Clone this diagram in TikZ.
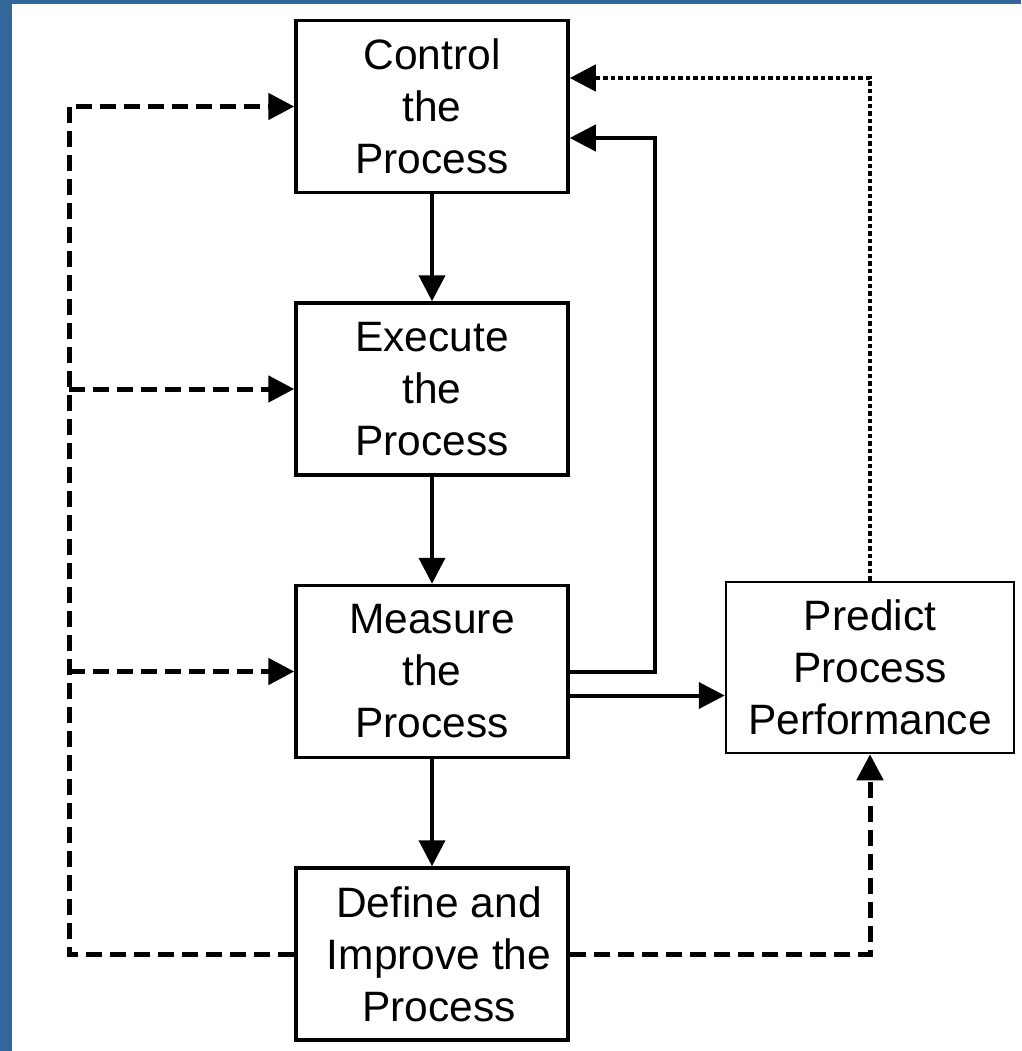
\documentclass[tikz,border=0pt]{standalone}
\usepackage{fontspec}
\setmainfont{Liberation Sans}
\usetikzlibrary{arrows.meta}
\definecolor{frameblue}{RGB}{51,102,153}
\newcommand{\indentline}{\hspace*{14pt}}
\begin{document}
\begin{tikzpicture}[x=1pt,y=-1pt,
  stepbox/.style={draw, line width=3.5pt, minimum width=272pt, minimum height=172pt,
    inner sep=0pt, align=center, font=\fontsize{42.5}{52}\selectfont},
  sidebox/.style={stepbox, line width=2.5pt, minimum width=288pt, minimum height=171pt},
  tip/.style={-{Triangle[length=26pt,width=26pt]}},
  flow/.style={tip, line width=4pt},
  link/.style={tip, line width=5pt, dash pattern=on 16pt off 8pt},
  hint/.style={tip, line width=4.5pt, dash pattern=on 4.5pt off 3pt}]
  % page and frame
  \fill[white] (0,0) rectangle (1021,1051);
  \useasboundingbox (0,0) rectangle (1021,1051);
  \fill[frameblue] (0,0) rectangle (12,1051);
  \fill[frameblue] (0,0) rectangle (1021,4);

  % process steps
  \node[stepbox] (ctrl) at (432,106.5) {Control\\the\\Process};
  \node[stepbox] (exec) at (432,389) {Execute\\the\\Process};
  \node[stepbox] (meas) at (432,671.5) {Measure\\the\\Process};
  \node[stepbox] (def)  at (432,954)
    {\indentline Define and\\\indentline Improve the\\\indentline Process};
  \node[sidebox] (pred) at (870,667.5) {Predict\\Process\\Performance};

  % main flow
  \draw[flow] (ctrl) -- (exec);
  \draw[flow] (exec) -- (meas);
  \draw[flow] (meas) -- (def);

  % measurement feedback and prediction
  \coordinate (fbx) at (655,0);
  \coordinate (ci) at ([yshift=-31.5pt]ctrl.east);
  \draw[flow] (meas.east) -- (fbx |- meas.east) |- (ci);
  \coordinate (mo) at ([yshift=-24pt]meas.east);
  \draw[flow] (mo) -- (mo -| pred.west);
  \coordinate (co) at ([yshift=28.5pt]ctrl.east);
  \draw[hint] (pred.north) |- (co);

  % improvement links
  \coordinate (lx) at (69,0);
  \draw[link] (def.west) -| (lx |- ctrl.west) -- (ctrl.west);
  \draw[link] (lx |- exec.west) -- (exec.west);
  \draw[link] (lx |- meas.west) -- (meas.west);
  \draw[link] (def.east) -| (pred.south);
\end{tikzpicture}
\end{document}
